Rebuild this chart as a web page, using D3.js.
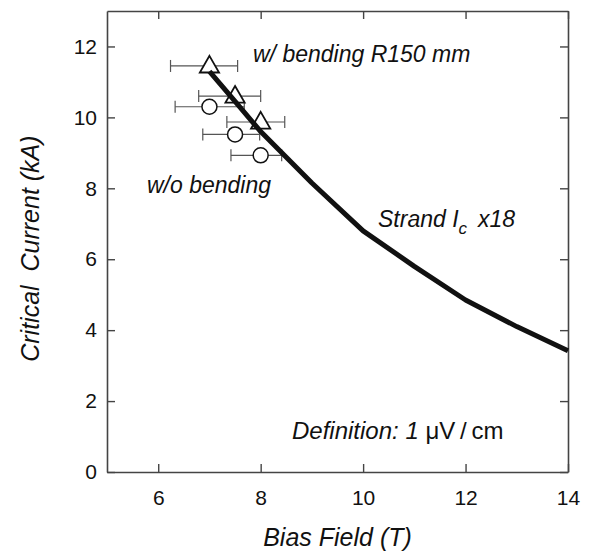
<!DOCTYPE html>
<html>
<head>
<meta charset="utf-8">
<script src="https://cdn.jsdelivr.net/npm/d3@7"></script>
<style>
  body { margin: 0; background: #fff; }
  svg { display: block; font-family: "Liberation Sans", Arial, sans-serif; }
</style>
</head>
<body>
<div id="chart"></div>
<script>
// strand Ic x18 curve
const curveField = [7, 7.5, 8, 9, 10, 11, 12, 13, 14];
const curveIc = [11.3, 10.45, 9.6, 8.15, 6.8, 5.8, 4.85, 4.1, 3.42];

// w/ bending R150 mm (triangles)
const bendField = [7, 7.5, 8];
const bendIc = [11.45, 10.6, 9.87];
const bendLo = [6.24, 6.79, 7.34];
const bendHi = [7.55, 8.0, 8.47];

// w/o bending (circles)
const flatField = [7, 7.5, 8];
const flatIc = [10.3, 9.52, 8.93];
const flatLo = [6.33, 6.87, 7.42];
const flatHi = [7.68, 7.98, 8.41];

const xTicks = [6, 8, 10, 12, 14];
const yTicks = [0, 2, 4, 6, 8, 10, 12];

const width = 593, height = 551;
const margin = { top: 11, right: 25, bottom: 79, left: 107 };

const svg = d3.select('#chart').append('svg')
  .attr('width', width).attr('height', height);

const x = d3.scaleLinear().domain([5, 14]).range([margin.left, width - margin.right]);
const y = d3.scaleLinear().domain([0, 13]).range([height - margin.bottom, margin.top]);

const axisColor = '#444';
const tickLen = 8;

// frame axes with inward ticks
const gBottom = svg.append('g').attr('transform', `translate(0,${y(0)})`)
  .call(d3.axisBottom(x).tickValues(xTicks).tickSize(-tickLen).tickPadding(18).tickSizeOuter(0));
const gTop = svg.append('g').attr('transform', `translate(0,${y(13)})`)
  .call(d3.axisTop(x).tickValues(xTicks).tickSize(-tickLen).tickFormat('').tickSizeOuter(0));
const gLeft = svg.append('g').attr('transform', `translate(${x(5)},0)`)
  .call(d3.axisLeft(y).tickValues(yTicks).tickSize(-tickLen).tickPadding(10).tickSizeOuter(0));
const gRight = svg.append('g').attr('transform', `translate(${x(14)},0)`)
  .call(d3.axisRight(y).tickValues(yTicks).tickSize(-tickLen).tickFormat('').tickSizeOuter(0));

[gBottom, gTop, gLeft, gRight].forEach(g => {
  g.select('.domain').attr('stroke', axisColor).attr('stroke-width', 1.6);
  g.selectAll('.tick line').attr('stroke', axisColor).attr('stroke-width', 1.4);
  g.selectAll('.tick text').attr('fill', '#111').style('font-size', '21px')
    .style('font-family', '"Liberation Sans", Arial, sans-serif');
});

// error bars
function errorBars(fields, vals, lo, hi) {
  const g = svg.append('g').attr('stroke', '#555').attr('stroke-width', 1.2);
  fields.forEach((f, i) => {
    const yy = y(vals[i]);
    g.append('line').attr('x1', x(lo[i])).attr('x2', x(hi[i])).attr('y1', yy).attr('y2', yy);
    g.append('line').attr('x1', x(lo[i])).attr('x2', x(lo[i])).attr('y1', yy - 6).attr('y2', yy + 6);
    g.append('line').attr('x1', x(hi[i])).attr('x2', x(hi[i])).attr('y1', yy - 6).attr('y2', yy + 6);
  });
}
errorBars(flatField, flatIc, flatLo, flatHi);
errorBars(bendField, bendIc, bendLo, bendHi);

// markers
svg.append('g').selectAll('circle')
  .data(flatField.map((f, i) => [f, flatIc[i]]))
  .join('circle')
  .attr('cx', d => x(d[0])).attr('cy', d => y(d[1])).attr('r', 7.5)
  .attr('fill', '#fff').attr('stroke', '#111').attr('stroke-width', 1.5);

const tri = d3.symbol().type(d3.symbolTriangle).size(160);
svg.append('g').selectAll('path')
  .data(bendField.map((f, i) => [f, bendIc[i]]))
  .join('path')
  .attr('d', tri)
  .attr('transform', d => `translate(${x(d[0])},${y(d[1]) + 1})`)
  .attr('fill', '#fff').attr('stroke', '#111').attr('stroke-width', 1.8);

// strand curve
const line = d3.line().x(d => x(d[0])).y(d => y(d[1]));
svg.append('path')
  .datum(curveField.map((f, i) => [f, curveIc[i]]))
  .attr('d', line)
  .attr('fill', 'none').attr('stroke', '#111').attr('stroke-width', 5)
  .attr('stroke-linejoin', 'round');

// annotations
const ann = svg.append('g').attr('fill', '#111').style('font-style', 'italic').style('font-size', '23px');
ann.append('text').attr('x', 253).attr('y', 62).text('w/ bending R150 mm');
ann.append('text').attr('x', 147).attr('y', 193).text('w/o bending');
const st = ann.append('text').attr('x', 378).attr('y', 227).text('Strand ');
st.append('tspan').text('I');
st.append('tspan').attr('dy', 7).style('font-size', '17px').text('c');
st.append('tspan').attr('dy', -7).text('\u2009 x18');
const def = ann.append('text').attr('x', 292).attr('y', 439).style('font-size', '24px').text('Definition: 1 ');
def.append('tspan').style('font-style', 'normal').text('\u03bcV\u2009/\u2009cm');

// axis titles
svg.append('text')
  .attr('x', (x(5) + x(14)) / 2).attr('y', 546)
  .attr('text-anchor', 'middle')
  .style('font-style', 'italic').style('font-size', '25px').attr('fill', '#111')
  .text('Bias Field (T)');

svg.append('text')
  .attr('transform', `translate(39,${y(6.3)}) rotate(-90)`)
  .attr('text-anchor', 'middle')
  .style('font-style', 'italic').style('font-size', '25px').attr('fill', '#111')
  .attr('xml:space', 'preserve')
  .style('white-space', 'pre')
  .text('Critical  Current (kA)');
</script>
</body>
</html>
